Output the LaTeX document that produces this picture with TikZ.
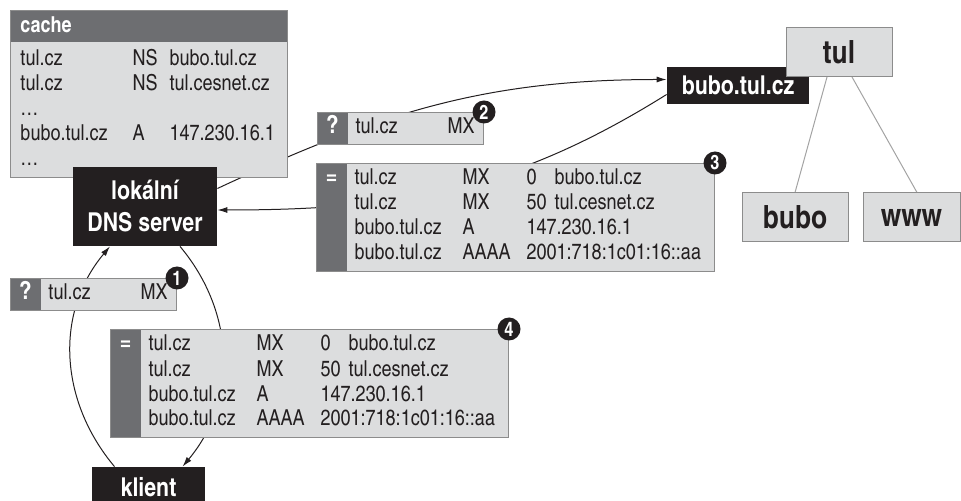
\documentclass[tikz,border=0pt]{standalone}
\usepackage{fontspec}
\setmainfont{texgyreheroscn}[Extension=.otf, UprightFont=*-regular, BoldFont=*-bold]
\usepackage{array}
\usetikzlibrary{arrows.meta,backgrounds}

\definecolor{boxgray}{HTML}{DCDDDE}
\definecolor{stripgray}{HTML}{6D6E71}
\definecolor{edgegray}{HTML}{8C8C8C}
\definecolor{nearblack}{HTML}{231F20}

\newcommand{\sign}[1]{\textcolor{white}{\fontsize{12.5}{12.5}\selectfont\bfseries #1}}
\newcommand{\mxanswer}{%
  \begin{tabular}{@{}wc{15pt}@{\hspace{4pt}}wl{54pt}@{}wl{32pt}@{}wl{14pt}@{}wl{80pt}@{}}
    \sign{=} & tul.cz & MX & 0 & bubo.tul.cz\\
    & tul.cz & MX & 50 & tul.cesnet.cz\\
    & bubo.tul.cz & A & \multicolumn{2}{@{}l@{}}{147.230.16.1}\\
    & bubo.tul.cz & AAAA & \multicolumn{2}{@{}l@{}}{2001:718:1c01:16::aa}
  \end{tabular}}
\newcommand{\mxquery}{%
  \begin{tabular}{@{}wc{15pt}@{\hspace{4pt}}wl{46pt}@{}wl{18pt}@{}}
    \sign{?} & tul.cz & MX
  \end{tabular}}

\tikzset{
  lightbox/.style={anchor=north west, fill=boxgray, draw=edgegray, line width=0.5pt,
    inner xsep=0pt, text=nearblack, font=\fontsize{11}{12.5}\selectfont},
  rec/.style={lightbox, inner ysep=2pt,
    path picture={\fill[stripgray] (path picture bounding box.north west)
      rectangle ([xshift=15pt]path picture bounding box.south west);}},
  query/.style={rec, inner ysep=1.5pt},
  cachebox/.style={lightbox, inner ysep=2.25pt,
    path picture={\fill[stripgray] (path picture bounding box.north west)
      rectangle ([yshift=-16pt]path picture bounding box.north east);}},
  darknode/.style={fill=nearblack, text=white, inner sep=0pt, align=center,
    font=\fontsize{13}{16}\selectfont\bfseries},
  treenode/.style={fill=boxgray, draw=edgegray, line width=0.5pt, text=nearblack,
    inner sep=0pt, minimum height=24.5pt, font=\fontsize{16}{18}\selectfont\bfseries},
  badge/.style={circle, fill=nearblack, text=white, inner sep=0pt, minimum size=11.5pt,
    font=\fontsize{10}{12}\selectfont\bfseries},
  arr/.style={-{Latex[length=5pt,width=3pt]}, line width=0.5pt, nearblack},
  treeline/.style={line width=0.5pt, edgegray!80}
}

\begin{document}
\begin{tikzpicture}[x=0.5pt,y=-0.5pt]
  \useasboundingbox (0,0) rectangle (961,501);

  % cache of the local server
  \node[cachebox] (cache) at (10,10) {%
    \begin{tabular}{@{\hspace{5pt}}wl{56pt}@{}wl{18.5pt}@{}wl{59pt}@{}}
      \multicolumn{3}{@{\hspace{5pt}}l@{}}{\textcolor{white}{\bfseries cache}}\\[4pt]
      tul.cz & NS & bubo.tul.cz\\
      tul.cz & NS & tul.cesnet.cz\\
      …\\
      bubo.tul.cz & A & 147.230.16.1\\
      …
    \end{tabular}};

  % servers and client
  \node[darknode, minimum width=72pt, minimum height=39.5pt] (dns) at (145,206.5) {lokální\\DNS server};
  \node[darknode, minimum width=56.5pt, minimum height=20pt] (klient) at (148.5,487) {klient};
  \node[darknode, minimum width=71pt, minimum height=18.5pt] (ns) at (738,85.5) {bubo.tul.cz};

  % domain tree
  \node[treenode, minimum width=53pt] (tul) at (839,52) {tul};
  \node[treenode, minimum width=53pt] (bubo) at (795,217.5) {bubo};
  \node[treenode, minimum width=48.5pt] (www) at (911.5,217.5) {www};

  % queries and answers
  \node[query] (q1) at (10,278) {\mxquery};
  \node[query] (q2) at (317,112) {\mxquery};
  \node[rec] (r3) at (316,163) {\mxanswer};
  \node[rec] (r4) at (110,329) {\mxanswer};

  \node[badge] (n1) at (q1.north east) {1};
  \node[badge] (n2) at (q2.north east) {2};
  \node[badge] (n3) at (r3.north east) {3};
  \node[badge] (n4) at (r4.north east) {4};

  \begin{scope}[on background layer]
    \draw[arr] ([xshift=-17pt]klient.north) to[out=130,in=230] ([xshift=-17.5pt]dns.south);
    \draw[arr] ([yshift=9pt]dns.east) to[out=25,in=180] ([yshift=3pt]ns.west);
    \draw[arr] ([yshift=-4.5pt]ns.west) to[out=212,in=0] ([yshift=-1.75pt]dns.east);
    \draw[arr] ([xshift=17.5pt]dns.south) to[out=-50,in=50] ([xshift=17pt]klient.north);
    \draw[treeline] ([xshift=-6pt]tul.south) -- (bubo.north);
    \draw[treeline] ([xshift=6.5pt]tul.south) -- ([xshift=2.75pt]www.north);
  \end{scope}
\end{tikzpicture}
\end{document}
